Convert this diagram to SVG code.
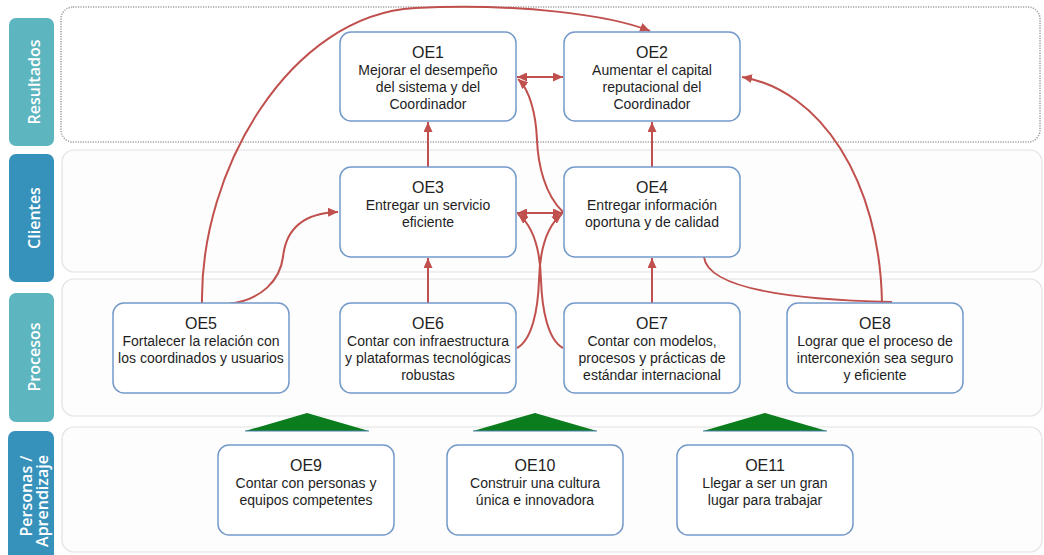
<svg xmlns="http://www.w3.org/2000/svg" width="1044" height="555" viewBox="0 0 1044 555">
<style>
.band{fill:#fdfdfd;stroke:#e2e2e2;stroke-width:1.2}
.bandDot{fill:#ffffff;stroke:#9c9c9c;stroke-width:1.5;stroke-dasharray:1.2 1.3}
.lblA{fill:#5cb5bf}
.lblB{fill:#3792bb}
.lt{font-family:"Open Sans","DejaVu Sans",sans-serif;font-weight:600;font-size:16px;fill:#ffffff;text-anchor:middle}
.box{fill:#ffffff;stroke:#7499c9;stroke-width:1.5}
.oe{font-family:"Liberation Sans",Arial,sans-serif;font-size:16px;fill:#1e1e1e;text-anchor:middle}
.tx{font-family:"Liberation Sans",Arial,sans-serif;font-size:14px;fill:#1e1e1e;text-anchor:middle}
.c{fill:none;stroke:#c0504d;stroke-width:2}
.tri{fill:#0b7d1e}
</style>
<defs>
<marker id="ah" markerUnits="userSpaceOnUse" markerWidth="11" markerHeight="9" refX="10" refY="4.5" orient="auto-start-reverse">
<path d="M0,0 L10,4.5 L0,9 z" fill="#c0504d"/>
</marker>
</defs>

<g id="bands">
<rect class="bandDot" x="61" y="7" width="979" height="135" rx="12"/>
<rect class="band" x="62" y="150" width="980" height="122" rx="12"/>
<rect class="band" x="62" y="279" width="980" height="137" rx="12"/>
<rect class="band" x="62" y="427" width="980" height="125" rx="12"/>
</g>

<g id="lbl-resultados">
<rect class="lblA" x="9" y="18" width="45" height="128" rx="7"/>
<text class="lt" transform="translate(40,82) rotate(-90)">Resultados</text>
</g>
<g id="lbl-clientes">
<rect class="lblB" x="9" y="154" width="45" height="128" rx="7"/>
<text class="lt" transform="translate(40,218) rotate(-90)">Clientes</text>
</g>
<g id="lbl-procesos">
<rect class="lblA" x="9" y="293" width="45" height="129" rx="7"/>
<text class="lt" transform="translate(40,357) rotate(-90)">Procesos</text>
</g>
<g id="lbl-personas">
<rect class="lblB" x="8" y="431" width="46" height="135" rx="7"/>
<text class="lt" transform="translate(32,496) rotate(-90)">Personas /</text>
<text class="lt" transform="translate(48,501) rotate(-90)">Aprendizaje</text>
</g>

<g id="triangles">
<polygon class="tri" points="245,431 307,413 369,431"/>
<line x1="245" y1="431" x2="369" y2="431" stroke="#4f7fae" stroke-width="1"/>
<polygon class="tri" points="473,431 535,413 597,431"/>
<line x1="473" y1="431" x2="597" y2="431" stroke="#4f7fae" stroke-width="1"/>
<polygon class="tri" points="703,431 765,413 827,431"/>
<line x1="703" y1="431" x2="827" y2="431" stroke="#4f7fae" stroke-width="1"/>
</g>

<g id="connectors">
<path class="c" d="M517,77 L563,77" marker-start="url(#ah)" marker-end="url(#ah)"/>
<path class="c" d="M517,213 L563,213" marker-start="url(#ah)" marker-end="url(#ah)"/>
<path class="c" d="M428,167 L428,122" marker-end="url(#ah)"/>
<path class="c" d="M652,167 L652,122" marker-end="url(#ah)"/>
<path class="c" d="M428,303 L428,258" marker-end="url(#ah)"/>
<path class="c" d="M652,303 L652,258" marker-end="url(#ah)"/>
<path class="c" d="M563,212 C545,195 538,165 537,140 C536,115 530,90 518,79" marker-end="url(#ah)"/>
<path class="c" d="M517,348 C532,340 538,310 539,280 C540,245 548,225 562,214" marker-end="url(#ah)"/>
<path class="c" d="M563,348 C548,340 542,310 541,280 C540,245 532,225 518,214" marker-end="url(#ah)"/>
<path class="c" d="M228,304 C262,300 280,280 283,257 C286,228 305,213 338,212" marker-end="url(#ah)"/>
<path class="c" d="M202,303 C200,170 290,15 415,8 C520,3 610,15 650,31" marker-end="url(#ah)"/>
<path class="c" d="M882,303 C880,180 820,90 742,77" marker-end="url(#ah)"/>
<path class="c" d="M704,257 C708,290 800,300 892,302"/>
</g>

<g id="OE1">
<rect class="box" x="340" y="32" width="176" height="89" rx="11"/>
<text class="oe" x="428" y="58">OE1</text>
<text class="tx" x="428" y="75">Mejorar el desempeño</text>
<text class="tx" x="428" y="92">del sistema y del</text>
<text class="tx" x="428" y="109">Coordinador</text>
</g>
<g id="OE2">
<rect class="box" x="564" y="32" width="176" height="89" rx="11"/>
<text class="oe" x="652" y="58">OE2</text>
<text class="tx" x="652" y="75">Aumentar el capital</text>
<text class="tx" x="652" y="92">reputacional del</text>
<text class="tx" x="652" y="109">Coordinador</text>
</g>
<g id="OE3">
<rect class="box" x="340" y="167" width="176" height="90" rx="11"/>
<text class="oe" x="428" y="193">OE3</text>
<text class="tx" x="428" y="210">Entregar un servicio</text>
<text class="tx" x="428" y="227">eficiente</text>
</g>
<g id="OE4">
<rect class="box" x="564" y="167" width="176" height="90" rx="11"/>
<text class="oe" x="652" y="193">OE4</text>
<text class="tx" x="652" y="210">Entregar información</text>
<text class="tx" x="652" y="227">oportuna y de calidad</text>
</g>
<g id="OE5">
<rect class="box" x="113" y="303" width="176" height="90" rx="11"/>
<text class="oe" x="201" y="329">OE5</text>
<text class="tx" x="201" y="346">Fortalecer la relación con</text>
<text class="tx" x="201" y="363">los coordinados y usuarios</text>
</g>
<g id="OE6">
<rect class="box" x="340" y="303" width="176" height="90" rx="11"/>
<text class="oe" x="428" y="329">OE6</text>
<text class="tx" x="428" y="346">Contar con infraestructura</text>
<text class="tx" x="428" y="363">y plataformas tecnológicas</text>
<text class="tx" x="428" y="380">robustas</text>
</g>
<g id="OE7">
<rect class="box" x="564" y="303" width="176" height="90" rx="11"/>
<text class="oe" x="652" y="329">OE7</text>
<text class="tx" x="652" y="346">Contar con modelos,</text>
<text class="tx" x="652" y="363">procesos y prácticas de</text>
<text class="tx" x="652" y="380">estándar internacional</text>
</g>
<g id="OE8">
<rect class="box" x="787" y="303" width="176" height="90" rx="11"/>
<text class="oe" x="875" y="329">OE8</text>
<text class="tx" x="875" y="346">Lograr que el proceso de</text>
<text class="tx" x="875" y="363">interconexión sea seguro</text>
<text class="tx" x="875" y="380">y eficiente</text>
</g>
<g id="OE9">
<rect class="box" x="218" y="445" width="176" height="90" rx="11"/>
<text class="oe" x="306" y="471">OE9</text>
<text class="tx" x="306" y="488">Contar con personas y</text>
<text class="tx" x="306" y="505">equipos competentes</text>
</g>
<g id="OE10">
<rect class="box" x="447" y="445" width="176" height="90" rx="11"/>
<text class="oe" x="535" y="471">OE10</text>
<text class="tx" x="535" y="488">Construir una cultura</text>
<text class="tx" x="535" y="505">única e innovadora</text>
</g>
<g id="OE11">
<rect class="box" x="677" y="445" width="176" height="90" rx="11"/>
<text class="oe" x="765" y="471">OE11</text>
<text class="tx" x="765" y="488">Llegar a ser un gran</text>
<text class="tx" x="765" y="505">lugar para trabajar</text>
</g>
</svg>
